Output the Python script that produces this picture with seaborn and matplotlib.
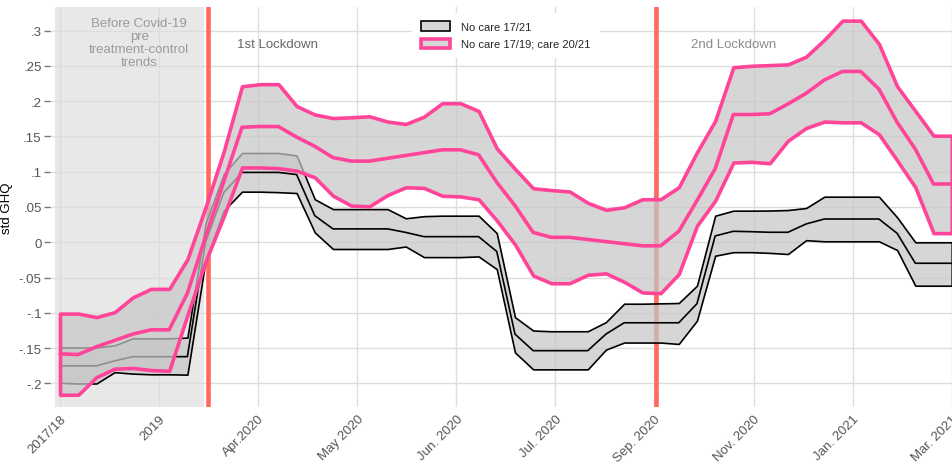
import numpy as np
import matplotlib
matplotlib.use("Agg")
import matplotlib.pyplot as plt
from matplotlib.patches import Patch
import seaborn as sns

# periods (waves), 0 = 2017/18 ... 49 = Mar. 2021
period = np.arange(50)

# No care 17/19; care 20/21  (pink)
pink_hi = [-0.101, -0.101, -0.106, -0.099, -0.078, -0.066, -0.066, -0.024, 0.050, 0.129,
           0.221, 0.224, 0.224, 0.193, 0.181, 0.176, 0.177, 0.1785, 0.171, 0.1676,
           0.178, 0.197, 0.197, 0.186, 0.133, 0.104, 0.0765, 0.074, 0.072, 0.056,
           0.046, 0.0496, 0.061, 0.061, 0.078, 0.1275, 0.172, 0.248, 0.250, 0.251,
           0.252, 0.263, 0.287, 0.314, 0.314, 0.281, 0.221, 0.186, 0.151, 0.151]
pink_mid = [-0.158, -0.159, -0.148, -0.139, -0.130, -0.124, -0.124, -0.072, 0.008, 0.086,
            0.163, 0.164, 0.164, 0.149, 0.136, 0.120, 0.115, 0.115, 0.119, 0.123,
            0.127, 0.131, 0.131, 0.124, 0.085, 0.052, 0.014, 0.007, 0.007, 0.004,
            0.001, -0.002, -0.005, -0.005, 0.0156, 0.059, 0.104, 0.181, 0.181, 0.182,
            0.196, 0.211, 0.230, 0.242, 0.242, 0.217, 0.170, 0.132, 0.0826, 0.0826]
pink_lo = [-0.216, -0.216, -0.191, -0.179, -0.178, -0.181, -0.182, -0.103, -0.027, 0.037,
           0.106, 0.106, 0.105, 0.1015, 0.092, 0.066, 0.052, 0.051, 0.067, 0.078,
           0.077, 0.066, 0.065, 0.061, 0.031, -0.003, -0.047, -0.058, -0.058, -0.046,
           -0.044, -0.056, -0.071, -0.072, -0.045, 0.0235, 0.059, 0.113, 0.114, 0.112,
           0.144, 0.162, 0.171, 0.170, 0.170, 0.153, 0.116, 0.078, 0.013, 0.013]

# No care 17/21  (black)
black_hi = [-0.149, -0.149, -0.149, -0.146, -0.136, -0.136, -0.136, -0.135, 0.027, 0.097,
            0.1265, 0.1265, 0.1265, 0.123, 0.061, 0.047, 0.047, 0.047, 0.047, 0.034,
            0.037, 0.0377, 0.0377, 0.0377, 0.013, -0.106, -0.125, -0.126, -0.126, -0.126,
            -0.113, -0.087, -0.087, -0.0865, -0.086, -0.0615, 0.0377, 0.0448, 0.0448, 0.045,
            0.0457, 0.0486, 0.0646, 0.0646, 0.0646, 0.0646, 0.0354, 0.0, 0.0, 0.0]
black_mid = [-0.175, -0.175, -0.175, -0.168, -0.162, -0.162, -0.162, -0.162, 0.0005, 0.0705,
             0.099, 0.099, 0.099, 0.096, 0.0377, 0.019, 0.019, 0.019, 0.019, 0.014,
             0.008, 0.008, 0.008, 0.008, -0.013, -0.130, -0.1535, -0.1535, -0.1535, -0.1535,
             -0.130, -0.114, -0.114, -0.114, -0.114, -0.087, 0.009, 0.0156, 0.015, 0.0142,
             0.0142, 0.026, 0.033, 0.033, 0.033, 0.033, 0.0127, -0.0297, -0.0297, -0.0297]
black_lo = [-0.199, -0.200, -0.200, -0.184, -0.186, -0.187, -0.187, -0.1875, -0.025, 0.045,
            0.0717, 0.0717, 0.071, 0.0698, 0.014, -0.0095, -0.0095, -0.0095, -0.0095, -0.006,
            -0.021, -0.021, -0.021, -0.020, -0.038, -0.156, -0.180, -0.180, -0.180, -0.180,
            -0.152, -0.142, -0.142, -0.142, -0.144, -0.111, -0.019, -0.014, -0.014, -0.015,
            -0.0166, 0.003, 0.0014, 0.0014, 0.0014, 0.0014, -0.011, -0.0615, -0.0615, -0.0615]

xtick_labels = ["2017/18", "2019", "Apr.2020", "May 2020", "Jun. 2020", "Jul. 2020",
                "Sep. 2020", "Nov. 2020", "Jan. 2021", "Mar. 2021"]
yticks = [-0.2, -0.15, -0.1, -0.05, 0, 0.05, 0.1, 0.15, 0.2, 0.25, 0.3]
ytick_labels = ["-.2", "-.15", "-.1", "-.05", "0", ".05", ".1", ".15", ".2", ".25", ".3"]

covid_start = 8.13
lockdown2 = 32.75

sns.set_theme(style="whitegrid")
plt.rcParams["font.family"] = ["Liberation Sans", "DejaVu Sans"]

PINK = "#ff4499"
RED = "#ff6a5e"
FILL = (0.78, 0.78, 0.78, 0.72)

fig = plt.figure(figsize=(9.53, 4.64), dpi=100)
ax = fig.add_axes([50 / 953, 1 - 408 / 464, 903 / 953, 400 / 464])
ax.set_axisbelow(True)

# pre-covid shaded area and lockdown markers
ax.axvspan(-0.27, 7.9, color="#e8e8e8", zorder=0.2, lw=0)
ax.axvline(covid_start, color=RED, lw=3.3, zorder=1)
ax.axvline(lockdown2, color=RED, lw=3.3, zorder=1)

# black group
ax.fill_between(period, black_lo, black_hi, facecolor=FILL, edgecolor="black",
                lw=1.2, zorder=2)
sns.lineplot(x=period, y=black_mid, color="black", lw=1.2, ax=ax, zorder=2.1)

# pink group
ax.fill_between(period, pink_lo, pink_hi, facecolor=FILL, edgecolor=PINK,
                lw=2.6, zorder=3)
sns.lineplot(x=period, y=pink_mid, color=PINK, lw=2.6, ax=ax, zorder=3.1)

ax.set_xlim(-0.55, 49.07)
ax.set_ylim(-0.2333, 0.3333)
ax.set_xticks(np.linspace(0, 49, 10))
ax.set_xticklabels(xtick_labels, rotation=45, ha="right", rotation_mode="anchor")
ax.set_yticks(yticks)
ax.set_yticklabels(ytick_labels)
ax.tick_params(axis="x", length=0, pad=4, labelsize=9.5, labelcolor="#555555")
ax.tick_params(axis="y", length=4, width=1, color="#777777", pad=2,
               labelsize=9.5, labelcolor="#555555", left=True)
ax.grid(True, color="#dddddd", lw=1)
ax.set_facecolor("white")
for s in ax.spines.values():
    s.set_visible(False)

ax.set_xlabel("")
ax.set_ylabel("std GHQ", fontsize=9.5, color="black", labelpad=4)

ax.text(4.35, 0.319, "Before Covid-19\npre\ntreatment-control\ntrends",
        ha="center", va="top", fontsize=9.5, color="#9a9a9a", linespacing=1.12)
ax.text(9.73, 0.281, "1st Lockdown", ha="left", va="center", fontsize=9.5, color="#666666")
ax.text(34.67, 0.281, "2nd Lockdown", ha="left", va="center", fontsize=9.5, color="#8c8c8c")

handles = [Patch(facecolor=FILL, edgecolor="black", lw=1.2, label="No care 17/21"),
           Patch(facecolor=FILL, edgecolor=PINK, lw=2.6, label="No care 17/19; care 20/21")]
leg = ax.legend(handles=handles, loc="upper center", bbox_to_anchor=(0.505, 1.0),
                fontsize=8, frameon=True, facecolor="white", edgecolor="none",
                framealpha=1, fancybox=False, handlelength=2.6, handleheight=0.9,
                borderpad=0.8, labelspacing=0.6, handletextpad=1.0)
leg.set_zorder(5)

fig.savefig("out.png", dpi=100)
